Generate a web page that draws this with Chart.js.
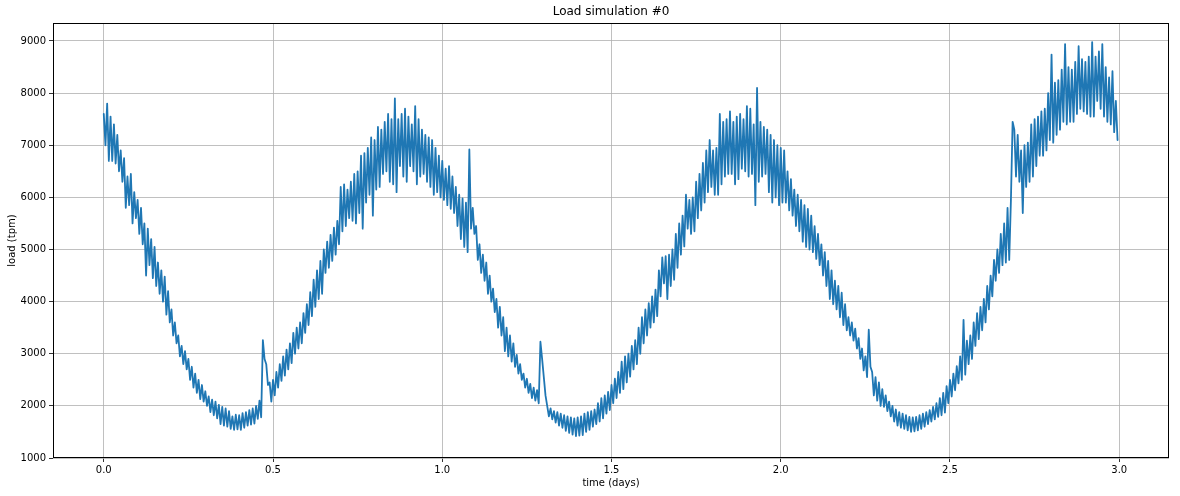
<!DOCTYPE html>
<html>
<head>
<meta charset="utf-8">
<title>Load simulation #0</title>
<script src="https://cdn.jsdelivr.net/npm/chart.js@4.4.0/dist/chart.umd.min.js"></script>
<style>
    html, body { margin: 0; padding: 0; background: #fff; }
</style>
</head>
<body>
<canvas id="chart" width="1180" height="496"></canvas>
<script>
// load samples, every 0.005 day (two readings per 0.01 day: upper / lower edge of the band)
const day0 = [
    7600,7000, 7800,6700, 7550,6700, 7400,6650, 7200,6500, 6900,6300, 6750,5800, 6400,5850, 6450,5500, 6100,5600,
    5950,5300, 5800,5100, 5500,4500, 5400,4700, 5200,4450, 5050,4300, 4750,4150, 4600,4000, 4480,3750, 4200,3600,
    3850,3350, 3600,3200, 3350,2950, 3150,2800, 3050,2700, 2900,2500, 2750,2350, 2620,2250, 2500,2130, 2400,2080,
    2280,2000, 2180,1880, 2120,1820, 2080,1760, 2020,1650, 1980,1620, 1950,1600, 1900,1560, 1800,1540, 1830,1550,
    1820,1540, 1860,1580, 1880,1620, 1920,1640, 1950,1660, 2000,1750, 2100,1780, 3260,2900, 2800,2400, 2450,2080,
    2500,2200, 2650,2350, 2800,2480, 2950,2580, 3080,2700, 3200,2820, 3400,3000, 3500,3100, 3600,3200, 3780,3400,
    3950,3550, 4180,3720, 4420,3900, 4600,4050, 4780,4150, 5000,4550, 5150,4650, 5280,4780, 5420,4900, 5550,5100,
    6200,5350, 6250,5450, 6150,5600, 6300,5550, 6450,5500, 6500,5700, 6800,5400, 6850,5900, 6950,6050, 7150,5650,
    7100,6150, 7350,6200, 7300,6450, 7450,6500, 7600,6300, 7500,6250, 7900,6100, 7500,6600, 7600,6400, 7700,6300,
    7550,6600, 7400,6500, 7750,6250, 7500,6400, 7300,6450, 7200,6300, 7150,6200, 7100,6050, 6950,6100, 6800,6000
];
const day1 = [
    6700,5950, 6550,5850, 6600,5780, 6400,5700, 6200,5450, 6050,5200, 5980,5050, 5900,4950, 6920,5400, 5800,5300,
    5450,4800, 5100,4550, 4900,4400, 4750,4150, 4500,4000, 4250,3800, 4050,3500, 3900,3350, 3700,3050, 3500,2950,
    3350,2850, 3200,2750, 2980,2620, 2800,2500, 2620,2350, 2520,2250, 2420,2150, 2350,2100, 2300,2050, 3230,2900,
    2550,2200, 2000,1800, 1950,1740, 1900,1680, 1880,1620, 1850,1580, 1820,1520, 1800,1480, 1780,1450, 1760,1420,
    1780,1430, 1800,1440, 1850,1500, 1880,1540, 1900,1600, 1930,1650, 2050,1700, 2150,1760, 2200,1850, 2270,1920,
    2400,2050, 2520,2150, 2650,2250, 2850,2320, 2950,2450, 3000,2560, 3150,2700, 3260,2800, 3500,3000, 3700,3200,
    3850,3350, 3970,3500, 4100,3600, 4230,3720, 4600,4100, 4850,4350, 4870,4050, 4900,4300, 5000,4420, 5300,4650,
    5500,4900, 5650,5060, 6050,5400, 5950,5300, 6000,5350, 6300,5600, 6450,5750, 6660,5900, 6900,6100, 7100,6200,
    6900,6050, 6950,6050, 7600,6250, 7450,6400, 7500,6450, 7650,6450, 7450,6250, 7550,6350, 7600,6550, 7500,6500,
    7750,6400, 7700,6450, 7400,5850, 8100,6300, 7450,6400, 7350,6450, 7300,6100, 7200,5900, 7100,6000, 7000,5850
];
const day2 = [
    6950,5900, 6900,5900, 6500,5750, 6350,5650, 6150,5450, 6050,5350, 5950,5150, 5850,5050, 5780,5000, 5650,4950,
    5450,4820, 5300,4700, 5100,4500, 4950,4300, 4780,4050, 4600,3950, 4400,3850, 4300,3700, 4170,3550, 3950,3450,
    3700,3350, 3600,3250, 3480,3100, 3300,2900, 3100,2680, 2950,2550, 3460,2750, 2650,2200, 2550,2100, 2450,2000,
    2320,1980, 2200,1900, 2080,1800, 2000,1700, 1930,1620, 1880,1580, 1850,1560, 1820,1530, 1790,1500, 1780,1510,
    1790,1530, 1820,1560, 1850,1600, 1880,1650, 1920,1700, 1980,1740, 2050,1790, 2150,1820, 2250,1870, 2380,2050,
    2500,2180, 2620,2300, 2760,2430, 2950,2500, 3650,2600, 3250,2800, 3350,2900, 3600,3150, 3780,3280, 3900,3450,
    4050,3600, 4300,3850, 4500,4100, 4800,4400, 5000,4550, 5300,4700, 5500,4750, 5800,4800, 5950,7450, 7300,6400,
    7200,6300, 6900,5700, 7000,6200, 7050,6300, 7400,6400, 7500,6600, 7550,6800, 7650,6800, 7700,6900, 8000,7100,
    8740,7050, 8200,7200, 8250,7300, 8450,7450, 8940,7400, 8500,7450, 8450,7450, 8600,7600, 8900,7700, 8650,7650,
    8600,7600, 8700,7550, 8980,7550, 8700,7850, 8800,7700, 8940,7550, 8500,7450, 8300,7400, 8420,7250, 7850,7100
];
const days = [day0, day1, day2];
const sampleStep = 0.005; // days between samples

const xTicks = [0, 0.5, 1, 1.5, 2, 2.5, 3];
const yTicks = [1000, 2000, 3000, 4000, 5000, 6000, 7000, 8000, 9000];

var points = [];
days.forEach(function (vals, d) {
    vals.forEach(function (v, i) {
        points.push({x: d + i * sampleStep, y: v});
    });
});

// matplotlib style box around the axes
const frame = {
    id: 'frame',
    afterDatasetsDraw(chart) {
        const a = chart.chartArea;
        const ctx = chart.ctx;
        ctx.save();
        ctx.strokeStyle = '#000';
        ctx.lineWidth = 1;
        ctx.strokeRect(Math.round(a.left) + 0.5, Math.round(a.top) + 0.5,
            Math.round(a.right - a.left) - 1, Math.round(a.bottom - a.top) - 1);
        ctx.restore();
    }
};

const font = {family: "'DejaVu Sans', sans-serif", size: 10};

new Chart(document.getElementById('chart'), {
    type: 'line',
    data: {
        datasets: [{
            data: points,
            borderColor: '#1f77b4',
            borderWidth: 1.8,
            borderJoinStyle: 'round',
            borderCapStyle: 'round',
            pointRadius: 0,
            tension: 0,
            fill: false
        }]
    },
    options: {
        responsive: false,
        animation: false,
        events: [],
        layout: {padding: {left: 0, right: 11, top: 0, bottom: 0}},
        plugins: {
            legend: {display: false},
            tooltip: {enabled: false},
            title: {
                display: true,
                text: 'Load simulation #0',
                fullSize: false,
                color: '#000',
                font: {family: "'DejaVu Sans', sans-serif", size: 12, weight: 'normal'},
                padding: {top: 5, bottom: 3.6}
            }
        },
        scales: {
            x: {
                type: 'linear',
                min: -0.15,
                max: 3.147,
                afterBuildTicks: function (s) { s.ticks = xTicks.map(v => ({value: v})); },
                afterFit: function (s) { s.height = 38; },
                ticks: {
                    color: '#000', font: font, padding: 2, maxRotation: 0, autoSkip: false,
                    callback: v => v.toFixed(1)
                },
                grid: {color: '#b0b0b0', lineWidth: 0.8, tickColor: '#000', tickLength: 4, tickWidth: 0.8},
                border: {display: false},
                title: {display: true, text: 'time (days)', color: '#000', font: font, padding: {top: 0, bottom: 7}}
            },
            y: {
                type: 'linear',
                min: 1000,
                max: 9345,
                afterBuildTicks: function (s) { s.ticks = yTicks.map(v => ({value: v})); },
                afterFit: function (s) { s.width = 53; },
                ticks: {
                    color: '#000', font: font, padding: 3, autoSkip: false,
                    callback: v => String(v)
                },
                grid: {color: '#b0b0b0', lineWidth: 0.8, tickColor: '#000', tickLength: 4, tickWidth: 0.8},
                border: {display: false},
                title: {display: true, text: 'load (tpm)', color: '#000', font: font, padding: {top: 6, bottom: 0}}
            }
        }
    },
    plugins: [frame]
});
</script>
</body>
</html>
